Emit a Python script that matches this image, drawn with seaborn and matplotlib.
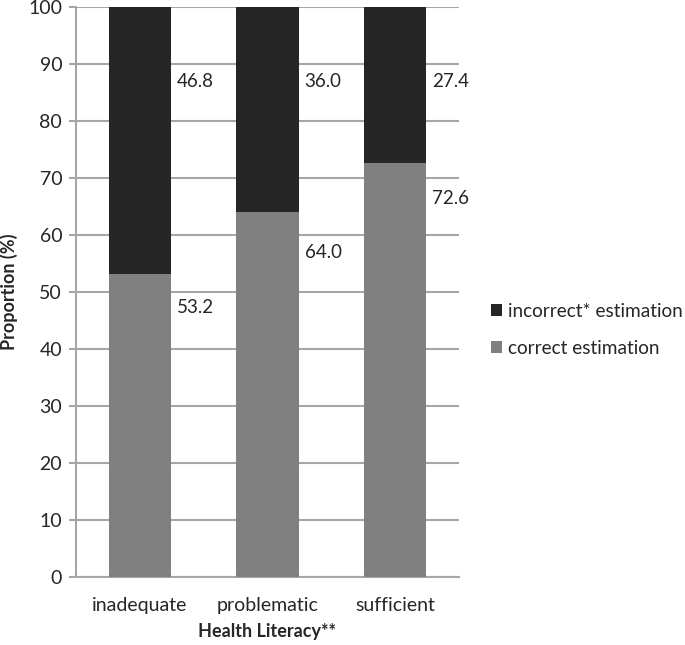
"""
Stacked bar chart of estimation correctness by health literacy level.
"""

import matplotlib.pyplot as plt
import seaborn as sns
import pandas as pd

literacy = ['inadequate', 'problematic', 'sufficient']
correct = [53.2, 64.0, 72.6]
incorrect = [46.8, 36.0, 27.4]

# label heights (data units)
correct_label_y = [47.3, 56.9, 66.5]
incorrect_label_y = [86.9, 86.9, 86.9]

DARK = '#262626'
GREY = '#808080'
GRID = '#a6a6a6'

sns.set_style('white')
plt.rcParams['font.family'] = ['Lato', 'DejaVu Sans']

df = pd.DataFrame({'level': literacy, 'correct': correct,
                   'incorrect': incorrect})
df['total'] = df['correct'] + df['incorrect']

fig = plt.figure(figsize=(6.85, 6.45), dpi=100)
ax = fig.add_axes([0.111, 0.105, 0.559, 0.884])

# Total bar first (dark), correct part drawn on top (grey)
sns.barplot(data=df, x='level', y='total', color=DARK, width=0.49,
            saturation=1, linewidth=0, ax=ax,
            label='incorrect* estimation', zorder=3)
sns.barplot(data=df, x='level', y='correct', color=GREY, width=0.49,
            saturation=1, linewidth=0, ax=ax,
            label='correct estimation', zorder=3)

ax.set_ylim(0, 100)
ax.set_xlim(-0.5, 2.5)
ax.set_yticks(range(0, 101, 10))
ax.yaxis.grid(True, color=GRID, linewidth=1.5, zorder=0)
ax.set_axisbelow(True)

for s in ['top', 'right']:
    ax.spines[s].set_visible(False)
for s in ['left', 'bottom']:
    ax.spines[s].set_color(GRID)
    ax.spines[s].set_linewidth(1.5)

ax.tick_params(axis='y', length=5, width=1.5, color=GRID, labelsize=14,
               pad=5, left=True)
ax.tick_params(axis='x', length=0, labelsize=14, pad=14)

ax.set_ylabel('Proportion (%)', fontsize=13, fontweight='bold', labelpad=7)
ax.set_xlabel('Health Literacy**', fontsize=13, fontweight='bold',
              labelpad=7)

for i in range(len(literacy)):
    ax.text(i + 0.29, incorrect_label_y[i], f'{incorrect[i]:.1f}',
            fontsize=13.5, va='center', ha='left')
    ax.text(i + 0.29, correct_label_y[i], f'{correct[i]:.1f}',
            fontsize=13.5, va='center', ha='left')

handles, labels = ax.get_legend_handles_labels()
ax.legend(handles, labels, loc='center left', bbox_to_anchor=(0.717, 0.489),
          bbox_transform=fig.transFigure, frameon=False, fontsize=13.7,
          handlelength=0.58, handleheight=0.58, handletextpad=0.3,
          labelspacing=1.05, borderpad=0, borderaxespad=0)

plt.savefig('out.png', dpi=100)
